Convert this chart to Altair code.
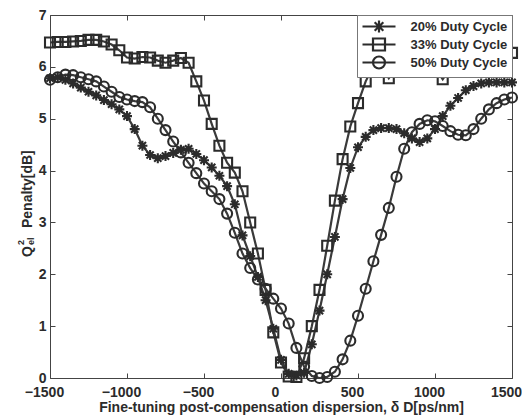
import altair as alt
import pandas as pd

# ---- data ----
dispersion = [-1500, -1450, -1400, -1350, -1300, -1250, -1200, -1150, -1100, -1050,
              -1000, -950, -900, -850, -800, -750, -700, -650, -600, -550,
              -500, -450, -400, -350, -300, -250, -200, -150, -100, -50,
              0, 50, 100, 150, 200, 250, 300, 350, 400, 450,
              500, 550, 600, 650, 700, 750, 800, 850, 900, 950,
              1000, 1050, 1100, 1150, 1200, 1250, 1300, 1350, 1400, 1450, 1500]

penalty_20 = [5.78, 5.80, 5.75, 5.68, 5.60, 5.52, 5.45, 5.36, 5.28, 5.18,
              5.05, 4.80, 4.48, 4.30, 4.24, 4.28, 4.34, 4.40, 4.42, 4.32,
              4.20, 4.06, 3.90, 3.70, 3.35, 2.75, 2.35, 1.95, 1.50, 0.95,
              0.35, 0.08, 0.05, 0.10, 0.65, 1.30, 2.00, 2.72, 3.45, 4.05,
              4.45, 4.65, 4.78, 4.82, 4.82, 4.80, 4.72, 4.62, 4.55, 4.62,
              4.80, 5.05, 5.25, 5.40, 5.55, 5.63, 5.68, 5.70, 5.70, 5.70, 5.70]

penalty_33 = [6.47, 6.48, 6.48, 6.49, 6.50, 6.52, 6.52, 6.49, 6.43, 6.32,
              6.18, 6.16, 6.19, 6.18, 6.12, 6.08, 6.12, 6.17, 6.08, 5.72,
              5.35, 4.90, 4.48, 4.15, 3.96, 3.60, 3.00, 2.40, 1.70, 0.88,
              0.30, 0.03, 0.02, 0.38, 1.00, 1.70, 2.55, 3.42, 4.22, 4.85,
              5.30, 5.72, 6.02, 6.05, 5.78, 5.98, 6.08, 6.12, 6.14, 6.08,
              5.98, 5.76, 5.98, 6.12, 6.20, 6.26, 6.30, 6.32, 6.30, 6.28, 6.27]

penalty_50 = [5.75, 5.80, 5.85, 5.84, 5.80, 5.76, 5.72, 5.62, 5.52, 5.42,
              5.37, 5.34, 5.32, 5.22, 5.00, 4.78, 4.56, 4.35, 4.15, 3.95,
              3.75, 3.60, 3.45, 3.17, 2.80, 2.40, 2.12, 1.90, 1.72, 1.53,
              1.34, 1.05, 0.58, 0.22, 0.04, 0.00, 0.02, 0.12, 0.36, 0.72,
              1.20, 1.72, 2.25, 2.76, 3.28, 3.88, 4.42, 4.74, 4.90, 4.97,
              4.95, 4.86, 4.76, 4.69, 4.68, 4.80, 5.00, 5.18, 5.30, 5.37, 5.41]

series_names = ["20% Duty Cycle", "33% Duty Cycle", "50% Duty Cycle"]
x_ticks = [-1500, -1000, -500, 0, 500, 1000, 1500]
y_ticks = [0, 1, 2, 3, 4, 5, 6, 7]
x_title = "Fine-tuning post-compensation dispersion, δ D[ps/nm]"
y_title_parts = {"main": "Penalty[dB]", "q": "Q", "sup": "2", "sub": "el"}

rows = []
for name, vals in zip(series_names, [penalty_20, penalty_33, penalty_50]):
    for i, (d, q) in enumerate(zip(dispersion, vals)):
        rows.append({"series": name, "D": d, "Q": q, "idx": i})
df = pd.DataFrame(rows)
title_df = pd.DataFrame([y_title_parts])

# ---- marker shapes (unit space) ----
asterisk = "M-1,0H1M0,-1V1M-0.72,-0.72L0.72,0.72M-0.72,0.72L0.72,-0.72"
square = "M-1,-1H1V1H-1Z"
circle = "M1,0A1,1 0 1,1 -1,0A1,1 0 1,1 1,0Z"
mark_paths = [asterisk, square, circle]

legend_paths = [
    "M-2.75,0H2.75M0,-1V1M-0.72,-0.72L0.72,0.72M-0.72,0.72L0.72,-0.72",
    "M-2.75,0H2.75M-1,-1H1V1H-1Z",
    "M-2.75,0H2.75M1,0A1,1 0 1,1 -1,0A1,1 0 1,1 1,0Z",
]

FONT = "Liberation Sans"
INK = "#2b2b2b"

xscale = alt.Scale(domain=[-1500, 1500], nice=False, zero=False)
yscale = alt.Scale(domain=[0, 7], nice=False, zero=False)

tick_style = dict(tickColor="#444444", tickWidth=1, tickSize={"expr": "-5"},
                  domain=False, grid=False)
label_style = dict(labelFont=FONT, labelFontWeight="bold", labelFontSize=14,
                   labelColor=INK, labelFlush=False, titleFont=FONT,
                   titleFontWeight="bold", titleColor=INK, titleFontSize=14)

lines = alt.Chart(df).mark_line(color="#3a3a3a", strokeWidth=2.2).encode(
    x=alt.X("D:Q", scale=xscale,
            axis=alt.Axis(orient="bottom", values=x_ticks, format="d",
                          labelPadding=12, labelOffset=-6,
                          title=x_title, titlePadding=1,
                          **tick_style, **label_style)),
    y=alt.Y("Q:Q", scale=yscale,
            axis=alt.Axis(orient="left", values=y_ticks, labelPadding=9,
                          title=None, **tick_style, **label_style)),
    detail="series:N",
    order="idx:Q",
)

points = alt.Chart(df).mark_point(filled=False, color=INK, strokeWidth=2.1,
                                  size=100, opacity=1).encode(
    x=alt.X("D:Q", scale=xscale,
            axis=alt.Axis(orient="top", values=x_ticks, labels=False, title=None,
                          **tick_style)),
    y=alt.Y("Q:Q", scale=yscale,
            axis=alt.Axis(orient="right", values=y_ticks, labels=False, title=None,
                          **tick_style)),
    shape=alt.Shape("series:N", scale=alt.Scale(domain=series_names, range=mark_paths),
                    legend=None),
)

legend_layer = alt.Chart(df).transform_filter("false").mark_point(
    filled=False, color=INK, strokeWidth=2, opacity=1
).encode(
    shape=alt.Shape(
        "series:N",
        scale=alt.Scale(domain=series_names, range=legend_paths),
        legend=alt.Legend(
            title=None, orient="none", legendX=307, legendY=0,
            labelFont=FONT, labelFontWeight="bold", labelFontSize=13,
            labelColor=INK, symbolSize=144, symbolStrokeWidth=2.2,
            symbolStrokeColor=INK, symbolFillColor="transparent",
            symbolOffset=10.5, labelOffset=24, padding=4, rowPadding=-3,
            fillColor="white", strokeColor="#777777", cornerRadius=0,
        ),
    ),
)

# y-axis title built from pieces (Q with stacked super/subscript)
ytitle_base = alt.Chart(title_df)
yt_main = ytitle_base.mark_text(angle=270, align="left", baseline="alphabetic",
                                font=FONT, fontWeight="bold", fontSize=14,
                                color=INK).encode(
    x=alt.value(-18), y=alt.value(213), text="main:N")
yt_q = ytitle_base.mark_text(angle=270, align="left", baseline="alphabetic",
                             font=FONT, fontWeight="bold", fontSize=14,
                             color=INK).encode(
    x=alt.value(-18), y=alt.value(242), text="q:N")
yt_sup = ytitle_base.mark_text(angle=270, align="left", baseline="alphabetic",
                               font=FONT, fontWeight="bold", fontSize=9,
                               color=INK).encode(
    x=alt.value(-26), y=alt.value(230), text="sup:N")
yt_sub = ytitle_base.mark_text(angle=270, align="left", baseline="alphabetic",
                               font=FONT, fontWeight="bold", fontSize=9,
                               color=INK).encode(
    x=alt.value(-16), y=alt.value(230), text="sub:N")

chart = alt.layer(lines, points, legend_layer, yt_main, yt_q, yt_sup, yt_sub).resolve_scale(
    shape="independent"
).properties(
    width=462, height=363,
    padding={"left": 42, "top": 7, "right": 10, "bottom": 40},
    autosize=alt.AutoSizeParams(type="none"),
    background="white",
).configure_view(stroke="#444444", strokeWidth=1)

chart.save("out.html", embed_options={"renderer": "svg", "actions": False})
